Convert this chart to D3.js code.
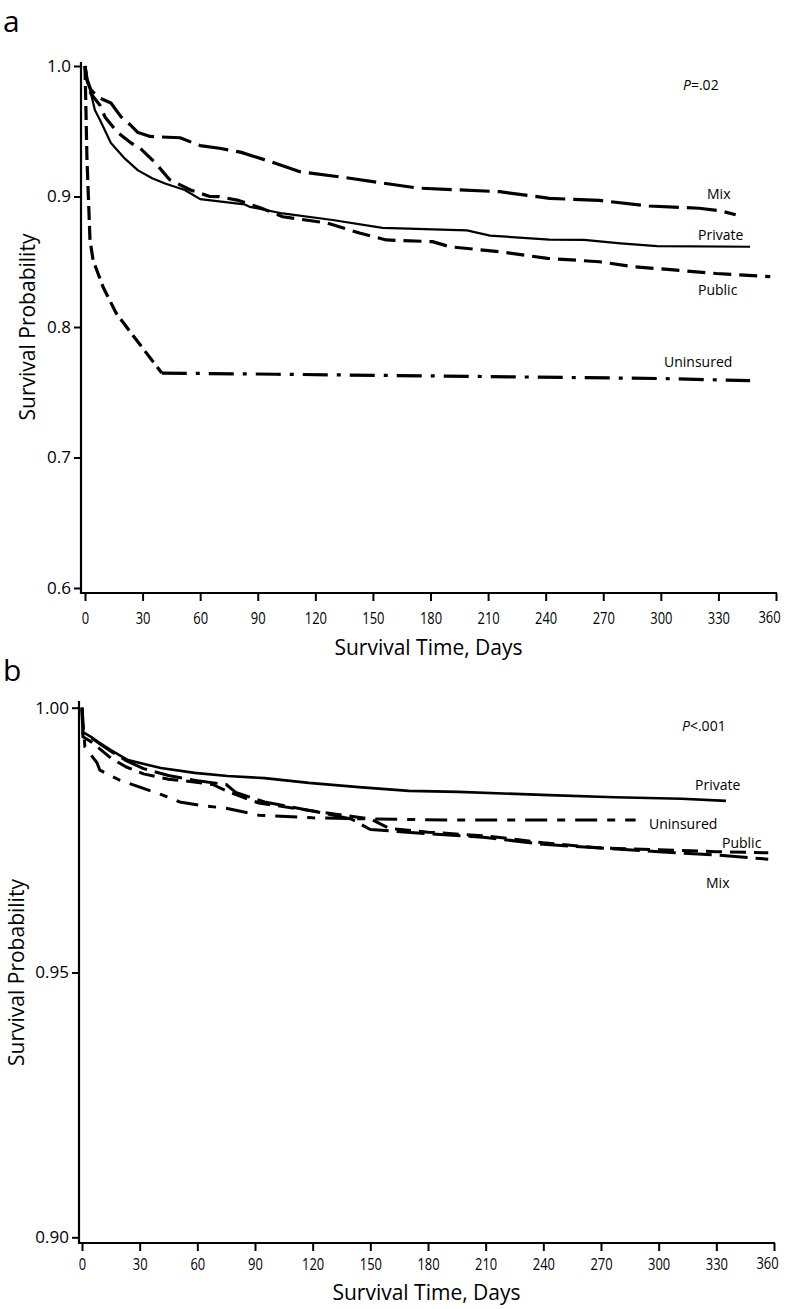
<!DOCTYPE html>
<html><head><meta charset="utf-8">
<script src="https://cdn.jsdelivr.net/npm/d3@7"></script>
<style>body{margin:0;background:#fff} svg{display:block}</style>
</head><body>
<svg id="chart" width="787" height="1309"></svg>
<script>
// ---------- data ----------
const xTicks = [0,30,60,90,120,150,180,210,240,270,300,330,360];
const aYTicks = [0.6,0.7,0.8,0.9,1.0];
const bYTicks = [0.90,0.95,1.00];

// Panel a : [day, survival]
const aMix = [[0,1.0],[1,0.99],[3,0.982],[6.8,0.976],[13.5,0.9716],[18.8,0.961],[23.5,0.955],[27.6,0.949],[34,0.946],[49.5,0.945],[60,0.939],[70,0.937],[81,0.934],[96,0.927],[112,0.919],[138,0.914],[173,0.9065],[216,0.9037],[242,0.8986],[268,0.897],[294,0.8927],[320,0.891],[331,0.889],[339,0.886]];
const aPrivate = [[0,1.0],[1,0.988],[2.6,0.982],[5.2,0.966],[8,0.958],[13.5,0.941],[20.8,0.929],[27.6,0.92],[35,0.914],[41.7,0.910],[52,0.905],[60,0.898],[83,0.894],[86,0.892],[103,0.887],[129,0.882],[155,0.876],[199,0.874],[211,0.870],[242,0.867],[260,0.8667],[279,0.8641],[298,0.862],[346.5,0.8615]];
const aPublic = [[0,1.0],[1,0.99],[3,0.979],[7.8,0.97],[10.4,0.961],[17,0.949],[24,0.941],[28.7,0.937],[36.5,0.926],[44,0.913],[55,0.905],[65,0.9],[70,0.8999],[80,0.897],[92,0.891],[103,0.8845],[126,0.8797],[143,0.872],[157,0.8667],[181,0.8654],[190,0.8615],[216,0.8577],[241,0.8526],[268,0.85],[285.6,0.8462],[312,0.8431],[329,0.841],[357,0.8386]];
const aUninsured = [[0,1.0],[0.3,0.98],[1,0.93],[2.6,0.8667],[4.2,0.8513],[9.4,0.8307],[16.2,0.8107],[24,0.7954],[38,0.7686],[40,0.7647],[100,0.7638],[200,0.7622],[300,0.7605],[346.5,0.7589]];

// Panel b : [day, survival]
const bPrivate = [[0,1.0],[0.5,0.9954],[4.7,0.9945],[9.3,0.9933],[15,0.992],[23.9,0.9901],[41,0.9886],[58.6,0.9877],[75.7,0.9871],[95,0.9867],[118,0.9858],[144,0.985],[170,0.9843],[196,0.9841],[243,0.9835],[277,0.9831],[312,0.9828],[335,0.9824]];
const bUninsured = [[0,1.0],[1.5,0.9926],[7.8,0.9896],[9.3,0.9882],[19.7,0.9863],[31.6,0.9848],[42,0.9835],[50.8,0.9822],[61,0.9816],[75,0.981],[92,0.9797],[120,0.9792],[150,0.979],[191,0.9788],[288,0.9788]];
const bPublic = [[0,1.0],[0.5,0.9945],[5,0.9935],[10,0.992],[15,0.9905],[23,0.9888],[32,0.9875],[45,0.9865],[53,0.9862],[68,0.9855],[77,0.984],[92,0.982],[120,0.9805],[150,0.979],[160,0.9772],[180,0.9765],[210,0.9758],[240,0.9745],[270,0.9735],[300,0.9732],[330,0.9728],[357,0.9726]];
const bMix = [[0,1.0],[0.5,0.995],[5,0.9943],[10,0.993],[15,0.9918],[23,0.99],[32,0.9885],[45,0.9872],[60,0.9862],[75,0.9855],[80,0.984],[95,0.9822],[120,0.9805],[140,0.979],[150,0.977],[180,0.9762],[210,0.9755],[240,0.9742],[270,0.9735],[300,0.9728],[330,0.9722],[357,0.9714]];

const FONT = "'Open Sans', 'Noto Sans', sans-serif";
const svg = d3.select("#chart");

function drawPanel(p) {
  const g = svg.append("g");
  const x = d3.scaleLinear().domain([0,360]).range(p.xRange);
  const y = d3.scaleLinear().domain(p.yDomain).range(p.yRange);

  // axes
  const ya = g.append("g").attr("transform", `translate(${p.yAxisX},0)`)
    .call(d3.axisLeft(y).tickValues(p.yTicks).tickFormat(d3.format(p.yFmt)).tickSize(7).tickPadding(3));
  const xa = g.append("g").attr("transform", `translate(0,${p.xAxisY})`)
    .call(d3.axisBottom(x).tickValues(xTicks).tickSize(8).tickPadding(p.xPad));
  [ya, xa].forEach(a => {
    a.select(".domain").remove();
    a.selectAll("line").attr("stroke", "#000").attr("stroke-width", 2);
    a.selectAll("text").attr("font-family", FONT).attr("font-size", 17).attr("fill", "#000");
  });
  xa.selectAll("text").each(function(d) {
    const n = this.textContent.length;
    d3.select(this).attr("textLength", n * 7.4).attr("lengthAdjust", "spacingAndGlyphs")
      .attr("font-size", d === 360 ? 16 : 17)
      .attr("dx", d === 360 ? -7 : 0);
  });
  g.append("line").attr("x1", p.yAxisX).attr("x2", p.yAxisX).attr("y1", p.yAxisTop).attr("y2", p.xAxisY + 1)
    .attr("stroke", "#000").attr("stroke-width", 2.2);
  g.append("line").attr("x1", p.yAxisX - 1).attr("x2", x(360) + 1).attr("y1", p.xAxisY).attr("y2", p.xAxisY)
    .attr("stroke", "#000").attr("stroke-width", 2.2);

  // titles
  g.append("text").attr("x", (p.yAxisX + x(360)) / 2).attr("y", p.xTitleY)
    .attr("text-anchor", "middle").attr("font-family", FONT).attr("font-size", 21).text("Survival Time, Days");
  g.append("text").attr("transform", `translate(${p.yTitleX},${(p.yRange[0] + p.yRange[1]) / 2}) rotate(-90)`)
    .attr("text-anchor", "middle").attr("font-family", FONT).attr("font-size", 21).text("Survival Probability");
  g.append("text").attr("x", p.letterX).attr("y", p.letterY).attr("font-family", FONT).attr("font-size", 30).text(p.letter);

  // P value
  const pt = g.append("text").attr("x", p.pX).attr("y", p.pY).attr("font-family", FONT).attr("font-size", 14);
  pt.append("tspan").attr("font-style", "italic").text("P");
  pt.append("tspan").text(p.pText);

  // curves
  const line = d3.line().x(d => x(d[0])).y(d => y(d[1]));
  p.series.forEach(s => {
    g.append("path").datum(s.data).attr("d", line).attr("fill", "none").attr("stroke", "#000")
      .attr("stroke-width", s.w).attr("stroke-dasharray", s.dash || null)
      .attr("stroke-linejoin", "round");
  });
  p.labels.forEach(l => {
    g.append("text").attr("x", l.x).attr("y", l.y).attr("font-family", FONT).attr("font-size", 14).text(l.t);
  });
}

drawPanel({
  letter: "a", letterX: 3, letterY: 32,
  xRange: [85, 776], yDomain: [0.6, 1.0], yRange: [588, 66],
  yAxisX: 81, yAxisTop: 62, xAxisY: 593, yTicks: aYTicks, yFmt: ".1f", xPad: 11,
  xTitleY: 655, yTitleX: 35,
  pX: 683, pY: 90, pText: "=.02",
  series: [
    {data: aMix, w: 3.2, dash: "30,8"},
    {data: aPrivate, w: 2.2},
    {data: aPublic, w: 3.2, dash: "18,8"},
    {data: aUninsured.slice(0, 10), w: 3.2, dash: "14,6"},
    {data: aUninsured.slice(9), w: 3.2, dash: "25,9,4,9"}
  ],
  labels: [
    {t: "Mix", x: 707, y: 199},
    {t: "Private", x: 698, y: 240},
    {t: "Public", x: 698, y: 295},
    {t: "Uninsured", x: 664, y: 367}
  ]
});

drawPanel({
  letter: "b", letterX: 3, letterY: 681,
  xRange: [82, 774], yDomain: [0.90, 1.00], yRange: [1237.3, 707.7],
  yAxisX: 79, yAxisTop: 701, xAxisY: 1243, yTicks: bYTicks, yFmt: ".2f", xPad: 7,
  xTitleY: 1300, yTitleX: 24,
  pX: 682, pY: 731, pText: "<.001",
  series: [
    {data: bPrivate, w: 2.6},
    {data: bUninsured, w: 3, dash: "22,10,8,10"},
    {data: bPublic, w: 3, dash: "16,8"},
    {data: bMix, w: 3, dash: "28,8"}
  ],
  labels: [
    {t: "Private", x: 695, y: 790},
    {t: "Uninsured", x: 649, y: 829},
    {t: "Public", x: 722, y: 848},
    {t: "Mix", x: 706, y: 888}
  ]
});
</script>
</body></html>
